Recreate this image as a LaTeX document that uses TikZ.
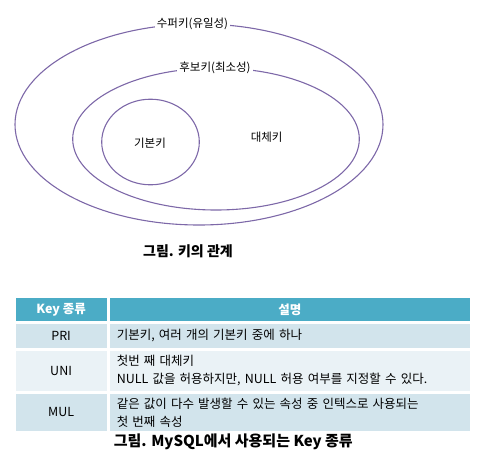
\documentclass[tikz,border=0pt]{standalone}
\usepackage{fontspec}
\setmainfont{Noto Sans CJK KR}
\usepackage{xcolor}
\usetikzlibrary{positioning}
\definecolor{ring}{HTML}{7D68A8}
\definecolor{head}{HTML}{4BACC6}
\definecolor{rowa}{HTML}{D2E4EC}
\definecolor{rowb}{HTML}{EAF2F6}

\begin{document}
\begin{tikzpicture}[
  x=1pt, y=-1pt,
  set/.style={draw=ring, line width=1.1pt},
  tag/.style={fill=white, inner sep=2pt, font=\fontsize{11.5}{13}\selectfont},
  cell/.style={draw=white, line width=1.5pt, anchor=north west, inner sep=0pt,
               font=\fontsize{12.5}{18}\selectfont},
  caption/.style={font=\fontsize{14}{16}\selectfont\bfseries}
]
\useasboundingbox (0,0) rectangle (480,467);
% key sets
\draw[set] (199,124.5) ellipse [x radius=184, y radius=100.5];
\draw[set] (216,139) ellipse [x radius=143.3, y radius=71];
\draw[set] (150.5,142) ellipse [x radius=48.8, y radius=42.8];
\node[tag] (super) at (192.5,24) {수퍼키(유일성)};
\node[tag] (cand) at (215,68) {후보키(최소성)};
\node[tag] (prim) at (150,143) {기본키};
\node[tag] (alt) at (266.7,137) {대체키};
\node[caption] (cap1) at (188,251.5) {그림. 키의 관계};

% key table
\node[cell, fill=head, text=white, font=\fontsize{12.5}{15}\selectfont\bfseries,
      minimum width=92.7, minimum height=24] (h1) at (14,296.7) {Key 종류};
\node[cell, fill=head, text=white, font=\fontsize{12.5}{15}\selectfont\bfseries,
      minimum width=361.6, minimum height=24, right=0pt of h1] (h2) {설명};
\node[cell, fill=rowa, minimum width=92.7, minimum height=26, below=0pt of h1] (k1) {PRI};
\node[cell, fill=rowa, minimum width=361.6, minimum height=26, right=0pt of k1,
      text width=346, inner xsep=7.6pt, align=left] (d1) {기본키, 여러 개의 기본키 중에 하나};
\node[cell, fill=rowb, minimum width=92.7, minimum height=41, below=0pt of k1] (k2) {UNI};
\node[cell, fill=rowb, minimum width=361.6, minimum height=41, right=0pt of k2,
      text width=346, inner xsep=7.6pt, align=left] (d2) {첫번 째 대체키\\NULL 값을 허용하지만, NULL 허용 여부를 지정할 수 있다.};
\node[cell, fill=rowa, minimum width=92.7, minimum height=39, below=0pt of k2] (k3) {MUL};
\node[cell, fill=rowa, minimum width=361.6, minimum height=39, right=0pt of k3,
      text width=346, inner xsep=7.6pt, align=left] (d3) {같은 값이 다수 발생할 수 있는 속성 중 인텍스로 사용되는\\첫 번째 속성};
\node[caption, font=\fontsize{15}{17}\selectfont\bfseries] (cap2) at (233.3,441.5) {그림. MySQL에서 사용되는 Key 종류};
\end{tikzpicture}
\end{document}
